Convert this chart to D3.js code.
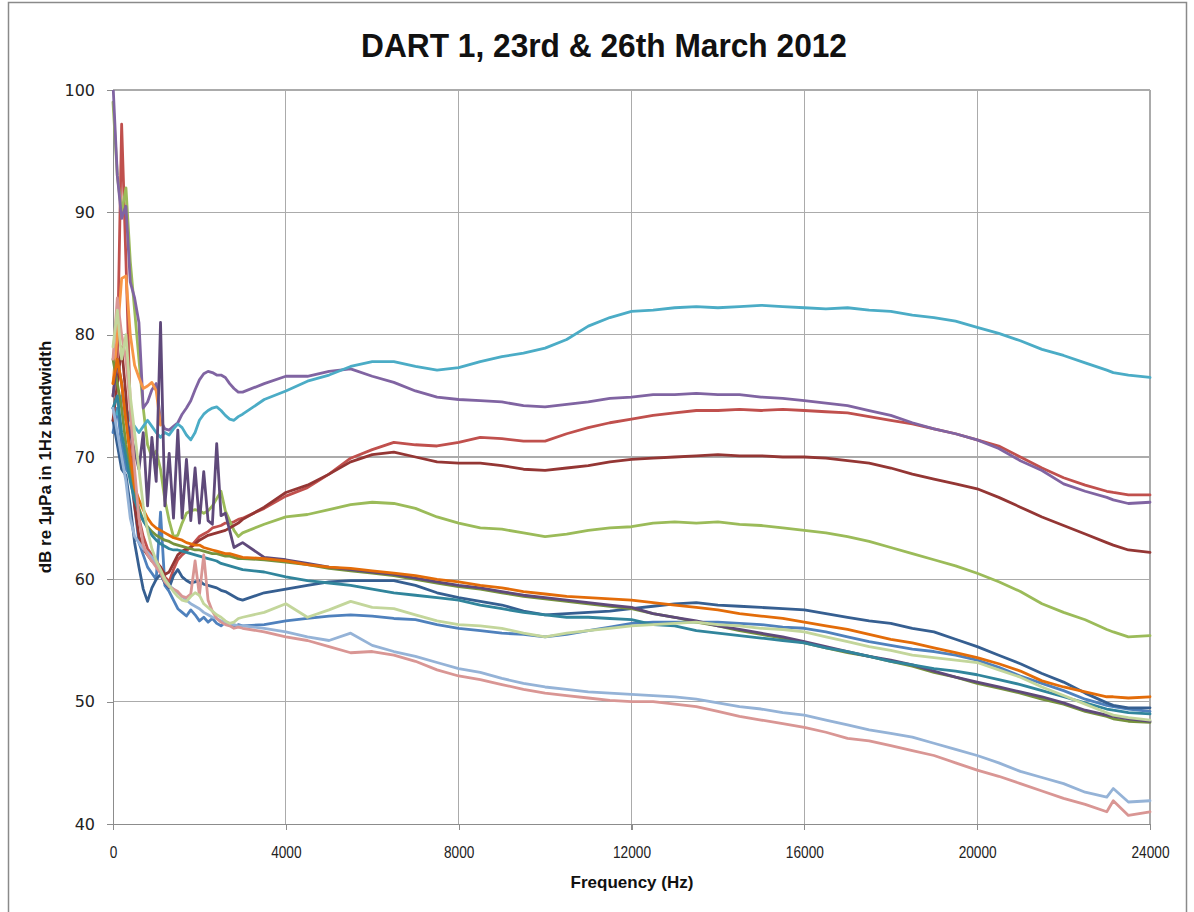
<!DOCTYPE html>
<html>
<head>
<meta charset="utf-8">
<title>DART 1, 23rd &amp; 26th March 2012</title>
<script src="https://cdn.jsdelivr.net/npm/d3@7"></script>
<style>
  body { margin: 0; background: #fff; }
  .line { fill: none; stroke-width: 2.8; stroke-linejoin: round; stroke-linecap: round; }
  .grid line { stroke: #ababab; stroke-width: 1.3; shape-rendering: crispEdges; }
  .axis path, .axis line { stroke: #8c8c8c; stroke-width: 1.3; shape-rendering: crispEdges; }
  .y-axis text { font-family: "DejaVu Sans", sans-serif; font-size: 16px; fill: #222; }
  .x-axis text { font-family: "Liberation Sans Narrow", "Arial Narrow", "Liberation Sans", sans-serif; font-size: 17px; fill: #222; }
  .title { font-family: "Liberation Sans Narrow", "Arial Narrow", "Liberation Sans", sans-serif; font-weight: bold; font-size: 33px; fill: #111; }
  .axis-title { font-family: "Liberation Sans Narrow", "Arial Narrow", "Liberation Sans", sans-serif; font-weight: bold; font-size: 17px; fill: #111; }
</style>
</head>
<body>
<div id="chart"></div>
<script>
// Frequencies (Hz): fine steps below 3 kHz, coarser above.
var freqLow = [0, 100, 200, 300, 400, 500, 600, 700, 800, 900, 1000, 1100, 1200, 1300, 1400, 1500,
  1600, 1700, 1800, 1900, 2000, 2100, 2200, 2300, 2400, 2500, 2600, 2700, 2800, 2900, 3000];
var freqHigh = [3500, 4000, 4500, 5000, 5500, 6000, 6500, 7000, 7500, 8000, 8500, 9000, 9500, 10000,
  10500, 11000, 11500, 12000, 12500, 13000, 13500, 14000, 14500, 15000, 15500, 16000, 16500, 17000,
  17500, 18000, 18500, 19000, 19500, 20000, 20500, 21000, 21500, 22000, 22500, 23000, 23150, 23500, 24000];

var xTicks = [0, 4000, 8000, 12000, 16000, 20000, 24000];
var yTicks = [40, 50, 60, 70, 80, 90, 100];

// Levels, dB re 1uPa in 1Hz bandwidth (low part, then high part)
var blue = [72, 74, 71, 69, 68.5, 66, 63, 62, 61, 60.5, 60, 65.5, 59.5, 59, 58.3, 57.6, 57.3, 57.0, 57.5, 57.1, 56.6, 56.9, 56.5, 56.8, 56.4, 56.2, 56.5, 56.3, 56.1, 56.3, 56.2,
  56.3, 56.6, 56.8, 57.0, 57.1, 57.0, 56.8, 56.7, 56.3, 56.0, 55.8, 55.6, 55.5, 55.3, 55.5, 55.8, 56.1, 56.4, 56.5, 56.5, 56.5, 56.5, 56.4, 56.3, 56.1, 56.0, 55.7, 55.3, 54.9, 54.6, 54.3, 54.1, 53.8, 53.4, 52.8, 52.1, 51.5, 50.9, 50.2, 49.7, 49.6, 49.4, 49.2];
var red = [75, 78, 97.2, 86, 74, 68, 65, 63.5, 62.5, 62, 61.5, 61, 60.2, 59.8, 60.8, 61.6, 62.0, 62.3, 62.7, 63.1, 63.5, 63.7, 63.9, 64.2, 64.3, 64.4, 64.6, 64.6, 64.7, 64.9, 65.0,
  65.8, 66.8, 67.5, 68.6, 69.9, 70.6, 71.2, 71.0, 70.9, 71.2, 71.6, 71.5, 71.3, 71.3, 71.9, 72.4, 72.8, 73.1, 73.4, 73.6, 73.8, 73.8, 73.9, 73.8, 73.9, 73.8, 73.7, 73.6, 73.3, 73.0, 72.7, 72.3, 71.9, 71.4, 70.9, 70.0, 69.1, 68.3, 67.7, 67.2, 67.1, 66.9, 66.9];
var green = [99, 93, 90, 92, 86, 82, 78, 74, 71, 70, 70.5, 69, 66.5, 64.8, 63.5, 63.6, 64.6, 65.4, 65.6, 65.7, 65.6, 65.4, 65.6, 66.0, 66.6, 67.2, 65.6, 64.8, 64.0, 63.5, 63.8,
  64.5, 65.1, 65.3, 65.7, 66.1, 66.3, 66.2, 65.8, 65.1, 64.6, 64.2, 64.1, 63.8, 63.5, 63.7, 64.0, 64.2, 64.3, 64.6, 64.7, 64.6, 64.7, 64.5, 64.4, 64.2, 64.0, 63.8, 63.5, 63.1, 62.6, 62.1, 61.6, 61.1, 60.5, 59.8, 59.0, 58.0, 57.3, 56.7, 55.9, 55.7, 55.3, 55.4];
var purple = [100.5, 93, 89.5, 90.5, 84.3, 83, 81, 74, 74.5, 75.5, 76, 73, 72.3, 72.2, 72.5, 72.8, 73.5, 74, 74.6, 75.5, 76.3, 76.8, 77, 76.9, 76.7, 76.7, 76.5, 76, 75.6, 75.3, 75.3,
  76.0, 76.6, 76.6, 77.0, 77.2, 76.6, 76.1, 75.4, 74.9, 74.7, 74.6, 74.5, 74.2, 74.1, 74.3, 74.5, 74.8, 74.9, 75.1, 75.1, 75.2, 75.1, 75.1, 74.9, 74.8, 74.6, 74.4, 74.2, 73.8, 73.4, 72.8, 72.3, 71.9, 71.4, 70.7, 69.7, 68.9, 67.8, 67.2, 66.7, 66.5, 66.2, 66.3];
var aqua = [74, 73.5, 75, 74, 73, 72.5, 72, 72.5, 73, 72.5, 72, 71.6, 72.0, 71.8, 72.3, 72.7, 72.4, 71.8, 71.4, 72.0, 73.0, 73.5, 73.8, 74.0, 74.1, 73.8, 73.4, 73.1, 73.0, 73.3, 73.5,
  74.7, 75.4, 76.2, 76.7, 77.4, 77.8, 77.8, 77.4, 77.1, 77.3, 77.8, 78.2, 78.5, 78.9, 79.6, 80.7, 81.4, 81.9, 82.0, 82.2, 82.3, 82.2, 82.3, 82.4, 82.3, 82.2, 82.1, 82.2, 82.0, 81.9, 81.6, 81.4, 81.1, 80.6, 80.1, 79.5, 78.8, 78.3, 77.7, 77.1, 76.9, 76.7, 76.5];
// this one stops near 1.1 kHz
var orange = [76, 80, 84.6, 84.8, 80, 77.5, 76.5, 75.6, 75.8, 76.1, 75.4, 72.6];
var darkBlue = [73, 71, 69, 68.5, 66, 63, 61, 59.2, 58.2, 59.3, 60.0, 60.4, 59.7, 59.3, 60.3, 60.8, 60.2, 59.9, 59.7, 59.8, 59.9, 59.6, 59.5, 59.4, 59.3, 59.1, 59.0, 58.8, 58.6, 58.4, 58.3,
  58.9, 59.2, 59.5, 59.8, 59.9, 59.9, 59.9, 59.5, 58.9, 58.5, 58.2, 57.9, 57.4, 57.1, 57.2, 57.3, 57.4, 57.6, 57.8, 58.0, 58.1, 57.9, 57.8, 57.7, 57.6, 57.5, 57.2, 56.9, 56.6, 56.4, 56.0, 55.7, 55.1, 54.5, 53.8, 53.1, 52.3, 51.6, 50.7, 49.9, 49.7, 49.5, 49.5];
var darkRed = [73, 76, 79, 75, 70, 66, 63.5, 62.5, 62, 61.5, 61.3, 61, 60.4, 60.6, 61.3, 62, 62.3, 62.5, 62.6, 62.9, 63.2, 63.4, 63.6, 63.7, 63.8, 63.9, 64.0, 64.2, 64.4, 64.6, 64.9,
  65.9, 67.1, 67.7, 68.6, 69.6, 70.2, 70.4, 70.0, 69.6, 69.5, 69.5, 69.3, 69.0, 68.9, 69.1, 69.3, 69.6, 69.8, 69.9, 70.0, 70.1, 70.2, 70.1, 70.1, 70.0, 70.0, 69.9, 69.7, 69.5, 69.1, 68.6, 68.2, 67.8, 67.4, 66.7, 65.9, 65.1, 64.4, 63.7, 63.0, 62.8, 62.4, 62.2];
var darkGreen = [78, 76, 74, 71, 69, 67, 65.8, 64.8, 64.3, 63.9, 63.6, 63.4, 63.2, 63.1, 62.9, 62.8, 62.7, 62.6, 62.5, 62.4, 62.4, 62.3, 62.2, 62.1, 62.1, 62.0, 61.9, 61.9, 61.8, 61.7, 61.7,
  61.6, 61.4, 61.2, 60.9, 60.7, 60.5, 60.3, 60.0, 59.7, 59.4, 59.2, 58.9, 58.6, 58.4, 58.2, 58.0, 57.8, 57.6, 57.2, 56.9, 56.5, 56.2, 55.8, 55.5, 55.2, 54.8, 54.4, 54.0, 53.7, 53.3, 52.9, 52.4, 52.0, 51.5, 51.1, 50.7, 50.2, 49.8, 49.2, 48.8, 48.6, 48.4, 48.3];
var darkPurple = [75, 78, 76, 73, 72, 70.5, 69, 72, 66, 71.6, 68, 81, 66, 70.3, 65, 72.2, 65, 69.8, 64.8, 69.1, 64.6, 68.8, 64.8, 64.5, 71.1, 65.2, 65.4, 64.0, 62.6, 62.8, 63.0,
  61.8, 61.6, 61.3, 61.0, 60.8, 60.6, 60.4, 60.1, 59.8, 59.5, 59.3, 59.0, 58.7, 58.5, 58.3, 58.1, 57.9, 57.7, 57.2, 56.9, 56.6, 56.2, 55.9, 55.6, 55.3, 54.9, 54.5, 54.1, 53.7, 53.4, 53.0, 52.5, 52.0, 51.6, 51.2, 50.8, 50.4, 49.9, 49.3, 48.9, 48.8, 48.6, 48.4];
var darkAqua = [74, 75, 72, 70, 68, 66.5, 65.5, 64.8, 64.2, 63.6, 63.2, 62.9, 62.7, 62.5, 62.4, 62.4, 62.3, 62.2, 62.1, 62.0, 61.9, 61.8, 61.7, 61.6, 61.5, 61.3, 61.2, 61.1, 61.0, 60.9, 60.8,
  60.6, 60.2, 59.9, 59.7, 59.5, 59.2, 58.9, 58.7, 58.5, 58.3, 57.9, 57.6, 57.3, 57.1, 56.9, 56.9, 56.8, 56.7, 56.3, 56.2, 55.8, 55.6, 55.4, 55.2, 55.0, 54.8, 54.4, 54.1, 53.7, 53.3, 53.0, 52.7, 52.5, 52.2, 51.8, 51.4, 50.9, 50.4, 49.9, 49.4, 49.3, 49.1, 49.0];
var darkOrange = [76, 78, 76, 73, 70, 67.5, 66.5, 65.7, 65.0, 64.5, 64.2, 64.0, 63.8, 63.6, 63.4, 63.3, 63.2, 63.0, 62.9, 62.8, 62.8, 62.6, 62.5, 62.4, 62.3, 62.2, 62.1, 62.1, 62.0, 61.9, 61.8,
  61.7, 61.5, 61.2, 61.0, 60.9, 60.7, 60.5, 60.3, 60.0, 59.8, 59.5, 59.3, 59.0, 58.8, 58.6, 58.5, 58.4, 58.3, 58.1, 57.9, 57.7, 57.5, 57.2, 57.0, 56.8, 56.5, 56.2, 55.9, 55.5, 55.1, 54.8, 54.4, 54.0, 53.6, 53.1, 52.5, 51.7, 51.2, 50.8, 50.4, 50.4, 50.3, 50.4];
var lightBlue = [74, 72, 70, 68, 65, 63.5, 63, 62.5, 62.2, 61.8, 61.2, 60.6, 60.0, 59.5, 59.2, 58.9, 58.6, 58.3, 58.0, 57.8, 57.6, 57.3, 57.1, 56.9, 56.8, 56.6, 56.5, 56.4, 56.3, 56.2, 56.2,
  56.0, 55.7, 55.3, 55.0, 55.6, 54.6, 54.1, 53.7, 53.2, 52.7, 52.4, 51.9, 51.5, 51.2, 51.0, 50.8, 50.7, 50.6, 50.5, 50.4, 50.2, 49.9, 49.6, 49.4, 49.1, 48.9, 48.5, 48.1, 47.7, 47.4, 47.1, 46.6, 46.1, 45.6, 45.0, 44.3, 43.8, 43.3, 42.6, 42.2, 42.9, 41.8, 41.9];
var lightRed = [78, 83, 80, 78, 74, 69, 65, 62.8, 62.0, 61.5, 61.0, 60.5, 59.8, 59.4, 59.2, 59.0, 58.6, 58.5, 58.8, 61.5, 58.7, 62.0, 58.3, 57.4, 56.8, 56.5, 56.3, 56.2, 56.0, 56.1, 56.0,
  55.7, 55.3, 55.0, 54.5, 54.0, 54.1, 53.8, 53.3, 52.6, 52.1, 51.8, 51.4, 51.0, 50.7, 50.5, 50.3, 50.1, 50.0, 50.0, 49.8, 49.6, 49.2, 48.8, 48.5, 48.2, 47.9, 47.5, 47.0, 46.8, 46.4, 46.0, 45.6, 45.0, 44.4, 43.9, 43.3, 42.7, 42.1, 41.6, 41.0, 41.9, 40.7, 41.0];
var lightGreen = [79, 82, 78, 80, 75, 72, 69, 66, 64, 62.5, 61.5, 60.8, 60.0, 59.5, 59.0, 58.6, 58.3, 58.2, 58.6, 58.9, 58.7, 58.0, 57.7, 57.4, 57.1, 56.9, 56.6, 56.4, 56.5, 56.8, 56.9,
  57.3, 58.0, 56.9, 57.5, 58.2, 57.7, 57.6, 57.1, 56.6, 56.3, 56.2, 56.0, 55.6, 55.3, 55.6, 55.8, 56.0, 56.2, 56.3, 56.4, 56.5, 56.3, 56.2, 56.0, 55.9, 55.7, 55.3, 54.9, 54.5, 54.2, 53.8, 53.6, 53.4, 53.2, 52.6, 52.0, 51.2, 50.5, 49.8, 49.1, 48.9, 48.7, 48.5];

(function (d3) {
    'use strict';

    var freqs = freqLow.concat(freqHigh);

    // Excel style series colours, in plotting order
    var series = [
        {values: blue, color: '#4f81bd'},
        {values: red, color: '#c0504d'},
        {values: green, color: '#9bbb59'},
        {values: purple, color: '#8064a2'},
        {values: aqua, color: '#4bacc6'},
        {values: orange, color: '#f79646'},
        {values: darkBlue, color: '#365f91'},
        {values: darkRed, color: '#943634'},
        {values: darkGreen, color: '#76923c'},
        {values: darkPurple, color: '#5f497a'},
        {values: darkAqua, color: '#31859c'},
        {values: darkOrange, color: '#e36c09'},
        {values: lightBlue, color: '#95b3d7'},
        {values: lightRed, color: '#d99694'},
        {values: lightGreen, color: '#c3d69b'}
    ];

    var W = 1194, H = 912;
    var margin = {top: 90, right: 44, bottom: 88, left: 113};
    var width = W - margin.left - margin.right;
    var height = H - margin.top - margin.bottom;

    var x = d3.scaleLinear().domain([0, 24000]).range([0, width]);
    var y = d3.scaleLinear().domain([40, 100]).range([height, 0]);

    var svg = d3.select('#chart').append('svg')
        .attr('width', W)
        .attr('height', H);

    // chart frame
    svg.append('rect')
        .attr('x', 8.5).attr('y', 2.5)
        .attr('width', 1178).attr('height', 940)
        .attr('fill', '#fff')
        .attr('stroke', '#8a8a8a')
        .attr('stroke-width', 1.5);

    // the original uses a condensed face, so squeeze the fallback a little
    svg.append('text')
        .attr('class', 'title')
        .attr('x', 604).attr('y', 57)
        .attr('text-anchor', 'middle')
        .attr('textLength', 486)
        .attr('lengthAdjust', 'spacingAndGlyphs')
        .text('DART 1, 23rd & 26th March 2012');

    var vis = svg.append('g')
        .attr('transform', 'translate(' + margin.left + ',' + margin.top + ')');

    // gridlines
    var grid = vis.append('g').attr('class', 'grid');
    grid.selectAll('.hgrid')
        .data(yTicks.slice(1))
        .enter().append('line')
        .attr('x1', 0).attr('x2', width)
        .attr('y1', function(d) { return y(d); })
        .attr('y2', function(d) { return y(d); });
    grid.selectAll('.vgrid')
        .data(xTicks.slice(1))
        .enter().append('line')
        .attr('y1', 0).attr('y2', height)
        .attr('x1', function(d) { return x(d); })
        .attr('x2', function(d) { return x(d); });

    // axes
    vis.append('g')
        .attr('class', 'axis y-axis')
        .call(d3.axisLeft(y).tickValues(yTicks).tickSize(6).tickPadding(12).tickSizeOuter(0));

    vis.append('g')
        .attr('class', 'axis x-axis')
        .attr('transform', 'translate(0,' + height + ')')
        .call(d3.axisBottom(x).tickValues(xTicks).tickFormat(d3.format('d')).tickSize(6).tickPadding(16).tickSizeOuter(0))
        .selectAll('text')
        .attr('textLength', function(d) { return String(d).length * 7.6; })
        .attr('lengthAdjust', 'spacingAndGlyphs');

    // lines
    svg.append('clipPath').attr('id', 'plot-clip')
        .append('rect')
        .attr('x', -2).attr('y', 0)
        .attr('width', width + 4).attr('height', height);

    var valueLine = d3.line()
        .x(function(d) { return x(d[0]); })
        .y(function(d) { return y(d[1]); });

    vis.append('g')
        .attr('clip-path', 'url(#plot-clip)')
        .selectAll('path')
        .data(series)
        .enter().append('path')
        .attr('class', 'line')
        .attr('stroke', function(d) { return d.color; })
        .attr('d', function(d) {
            return valueLine(d.values.map(function(v, i) { return [freqs[i], v]; }));
        });

    // axis titles
    svg.append('text')
        .attr('class', 'axis-title')
        .attr('x', 632).attr('y', 888)
        .attr('text-anchor', 'middle')
        .text('Frequency (Hz)');

    svg.append('text')
        .attr('class', 'axis-title')
        .attr('transform', 'translate(51,' + (margin.top + height / 2) + ') rotate(-90)')
        .attr('text-anchor', 'middle')
        .text('dB re 1µPa in 1Hz bandwidth');
})(d3);
</script>
</body>
</html>
